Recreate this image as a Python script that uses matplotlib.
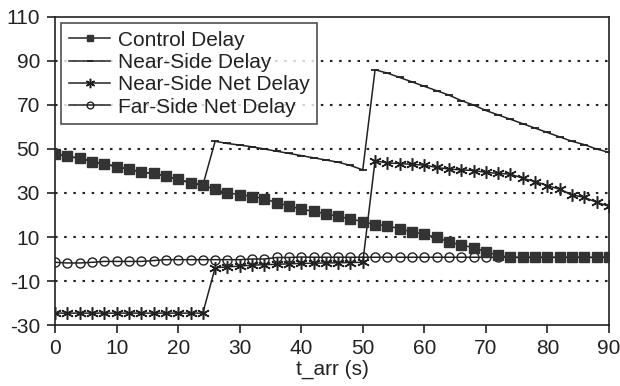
import matplotlib
matplotlib.use("Agg")
import matplotlib.pyplot as plt

plt.rcParams['font.family'] = ['Liberation Sans', 'DejaVu Sans']
plt.rcParams['axes.unicode_minus'] = False

t_arr = list(range(0, 92, 2))

control_delay = [47.8, 46.6, 45.8, 44.3, 43.2, 42.0, 40.8, 39.5, 38.9, 37.7,
                 36.2, 34.6, 33.5, 31.7, 30.0, 29.3, 28.4, 27.5, 25.5, 24.2,
                 22.6, 21.7, 20.5, 19.4, 18.2, 17.0, 15.6, 15.2, 13.6, 12.4,
                 11.2, 9.8, 7.8, 6.3, 5.2, 3.3, 1.7, 0.7, 0.7, 0.7,
                 0.7, 0.7, 0.7, 0.7, 0.7, 0.7]

# near-side delay follows control delay until the first jump
near_side_delay = control_delay[:13] + [
    53.5, 52.5, 51.8, 51.0, 50.0, 49.0, 48.0, 47.0, 46.0, 45.0,
    44.0, 42.5, 40.5,
    86.0, 84.5, 82.5, 80.5, 78.5, 76.5, 74.5, 72.0, 70.0, 67.5,
    65.5, 63.5, 61.5, 59.5, 57.5, 55.5, 53.5, 52.0, 50.0, 48.5]

near_side_net = [-24.6] * 13 + [
    -4.0, -3.6, -3.2, -2.8, -2.6, -2.4, -2.2, -2.0, -1.9, -1.8,
    -1.7, -1.6, -1.5,
    44.7, 43.6, 43.4, 43.0, 42.7, 41.6, 40.9, 40.5, 40.2, 39.4,
    38.9, 38.6, 36.7, 35.2, 33.4, 31.7, 29.2, 28.0, 25.8, 24.0]

far_side_net = [-1.5, -1.8, -1.8, -1.5, -1.1, -1.1, -1.1, -1.1, -0.7, -0.3,
                -0.3, -0.3, -0.3, -0.3, -0.3, -0.3, 0.0, 0.0, 0.7, 0.7,
                0.9, 0.8, 0.8, 0.8, 0.8, 0.8, 0.8, 0.8, 0.8, 0.8,
                0.8, 0.8, 0.8, 0.8, 0.8, 0.8, 0.8, 0.8, 0.8, 0.8,
                0.8, 0.8, 0.8, 0.8, 0.8, 0.8]

ink = '#222222'

fig = plt.figure(figsize=(6.2, 3.86), dpi=100)
ax = fig.add_axes([0.089, 0.158, 0.893, 0.798])

ax.plot(t_arr, far_side_net, color=ink, linewidth=1.1, marker='o', markersize=6.5,
        markerfacecolor='none', markeredgecolor=ink, markeredgewidth=1.0,
        label='Far-Side Net Delay', zorder=3)
ax.plot(t_arr, near_side_net, color=ink, linewidth=1.1, marker=(6, 2, 0), markersize=9,
        markeredgecolor=ink, markeredgewidth=1.1, label='Near-Side Net Delay', zorder=3)
ax.plot(t_arr, near_side_delay, color=ink, linewidth=1.1, marker='_', markersize=6,
        markeredgecolor=ink, markeredgewidth=1.3, label='Near-Side Delay', zorder=3)
ax.plot(t_arr, control_delay, color=ink, linewidth=1.1, marker='s', markersize=6.5,
        markerfacecolor='#333333', markeredgecolor='#333333', label='Control Delay', zorder=4)

ax.set_xlim(0, 90)
ax.set_ylim(-30, 110)
ax.set_xticks(range(0, 91, 10))
ax.set_yticks(range(-30, 111, 20))
ax.tick_params(labelsize=15, colors=ink, direction='out', length=6, width=1.2, pad=4)
ax.tick_params(axis='y', pad=5)

for y in range(-10, 100, 20):
    ax.axhline(y, color=ink, linestyle=(0, (1.2, 3.2)), linewidth=1.5, zorder=1)

for s in ax.spines.values():
    s.set_color(ink)
    s.set_linewidth(1.2)

ax.set_xlabel('t_arr (s)', fontsize=15, color=ink, labelpad=1)

handles, labels = ax.get_legend_handles_labels()
leg = ax.legend(handles[::-1], labels[::-1], loc='upper left', fontsize=15,
                frameon=True, fancybox=False, borderpad=0.35, labelspacing=0.16,
                handlelength=2.0, handletextpad=0.35, borderaxespad=0.3,
                markerscale=0.75)
leg.get_frame().set_edgecolor(ink)
leg.get_frame().set_linewidth(1.2)
for text in leg.get_texts():
    text.set_color(ink)

fig.savefig('out.png', dpi=100)
